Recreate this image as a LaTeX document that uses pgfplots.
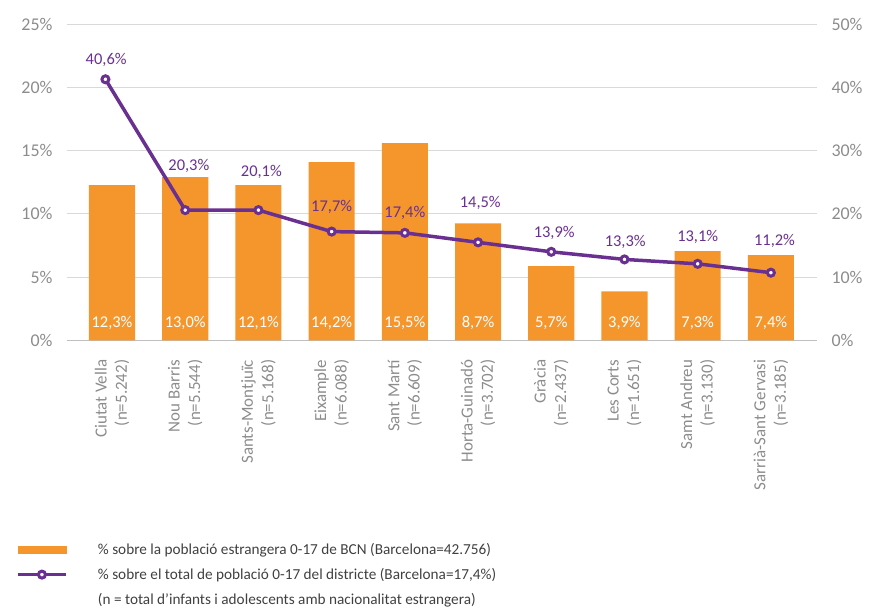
\documentclass[border=0pt]{standalone}
\usepackage{pgfplots}
\pgfplotsset{compat=1.18}
\usepackage{pgfplotstable}
\usepackage{fontspec}
\setmainfont{Carlito}
\definecolor{barorange}{RGB}{244,150,44}
\definecolor{linepurple}{RGB}{106,48,145}
\definecolor{tickgray}{RGB}{140,140,140}
\definecolor{gridgray}{RGB}{217,217,217}
\definecolor{axisgray}{RGB}{191,191,191}
\definecolor{legendtext}{RGB}{64,64,64}
\newcommand\lbl{\fontsize{16.5}{20}\selectfont}
\newcommand\ytl{\fontsize{18}{21}\selectfont}
\newcommand\xtl{\fontsize{17}{20.5}\selectfont}
\newcommand\lgd{\fontsize{15.3}{18}\selectfont}

\pgfplotstableread{
x y label
0 12.27 {12,3\%}
1 12.90 {13,0\%}
2 12.27 {12,1\%}
3 14.10 {14,2\%}
4 15.60 {15,5\%}
5 9.26 {8,7\%}
6 5.86 {5,7\%}
7 3.88 {3,9\%}
8 7.05 {7,3\%}
9 6.73 {7,4\%}
}\bars

\pgfplotstableread{
x y
-0.09 41.3
1 20.6
2 20.6
3 17.2
4 17.0
5 15.5
6 14.0
7 12.8
8 12.1
9 10.7
}\linedata

\pgfplotstableread{
x y label
-0.08 44.3 {40,6\%}
1.05 27.6 {20,3\%}
2.04 26.7 {20,1\%}
3.00 21.1 {17,7\%}
4.00 20.2 {17,4\%}
5.03 21.8 {14,5\%}
6.04 17.0 {13,9\%}
7.01 15.6 {13,3\%}
8.00 16.4 {13,1\%}
9.05 15.8 {11,2\%}
}\linelabels

\pgfplotsset{
  base/.style={
    scale only axis, width=750bp, height=316bp,
    at={(0,0)}, anchor=south west,
    xmin=-0.615, xmax=9.63,
    major tick length=0pt,
    /pgf/number format/assume math mode=true,
    tick label style={text=tickgray},
    yticklabel style={font=\ytl},
  }
}

\begin{document}
\begin{tikzpicture}
\path[use as bounding box] (-67bp,-268bp) rectangle (805bp,340.3bp);
\begin{axis}[base,
  ymin=0, ymax=25, ytick={0,5,...,25},
  yticklabel={\pgfmathprintnumber{\tick}\%},
  yticklabel style={xshift=-11bp},
  ymajorgrids, grid style={gridgray, line width=1bp},
  axis x line*=bottom, axis y line*=left,
  y axis line style={draw=none},
  x axis line style={axisgray, line width=1bp, -},
  xtick={0,...,9},
  xticklabels={{Ciutat Vella\\(n=5.242)},{Nou Barris\\(n=5.544)},{Sants-Montjuïc\\(n=5.168)},{Eixample\\(n=6.088)},{Sant Martí\\(n=6.609)},{Horta-Guinadó\\(n=3.702)},{Gràcia\\(n=2.437)},{Les Corts\\(n=1.651)},{Samt Andreu\\(n=3.130)},{Sarrià-Sant Gervasi\\(n=3.185)}},
  xticklabel style={rotate=90, anchor=east, align=right, font=\xtl, xshift=-16bp},
]
\addplot[ybar, bar width=0.63, fill=barorange, draw=none, bar shift=0pt] table[x=x,y=y] {\bars};
\addplot[draw=none, mark=none, nodes near coords, point meta=explicit symbolic,
  every node near coord/.append style={anchor=center, text=white, font=\lbl}]
  table[x=x, y expr=1.4, meta=label] {\bars};
\end{axis}
\begin{axis}[base,
  ymin=0, ymax=50, ytick={0,10,...,50},
  yticklabel={\pgfmathprintnumber{\tick}\%},
  yticklabel style={xshift=11bp},
  axis y line*=right, axis x line=none,
  y axis line style={draw=none},
  xtick=\empty,
  legend style={at={(axis description cs:-0.068,-0.635)}, anchor=north west,
    draw=none, fill=none, font=\lgd, text=legendtext, row sep=8.5bp,
    inner sep=0pt},
  legend cell align=left,
]
\addlegendimage{legend image code/.code={\fill[barorange] (0bp,-3.5bp) rectangle (48bp,3.5bp); \path[draw=none,fill=none] (0bp,0) -- (78bp,0);}}
\addlegendentry{\% sobre la població estrangera 0-17 de BCN (Barcelona=42.756)}
\addplot[linepurple, line width=3.5bp, mark=*, mark size=3.5bp,
  mark options={fill=white, draw=linepurple, line width=3bp},
  legend image code/.code={\draw[linepurple, line width=3.5bp] (0bp,0) -- (48bp,0); \draw[linepurple, line width=3bp, fill=white] (24bp,0) circle (3.5bp); \path[draw=none,fill=none] (0bp,0) -- (78bp,0);}]
  table[x=x,y=y] {\linedata};
\addlegendentry{\% sobre el total de població 0-17 del districte (Barcelona=17,4\%)}
\addlegendimage{empty legend}
\addlegendentry{(n = total d’infants i adolescents amb nacionalitat estrangera)}
\addplot[draw=none, mark=none, nodes near coords, point meta=explicit symbolic, forget plot,
  every node near coord/.append style={anchor=center, text=linepurple, font=\lbl}]
  table[x=x, y=y, meta=label] {\linelabels};
\end{axis}
\end{tikzpicture}
\end{document}
